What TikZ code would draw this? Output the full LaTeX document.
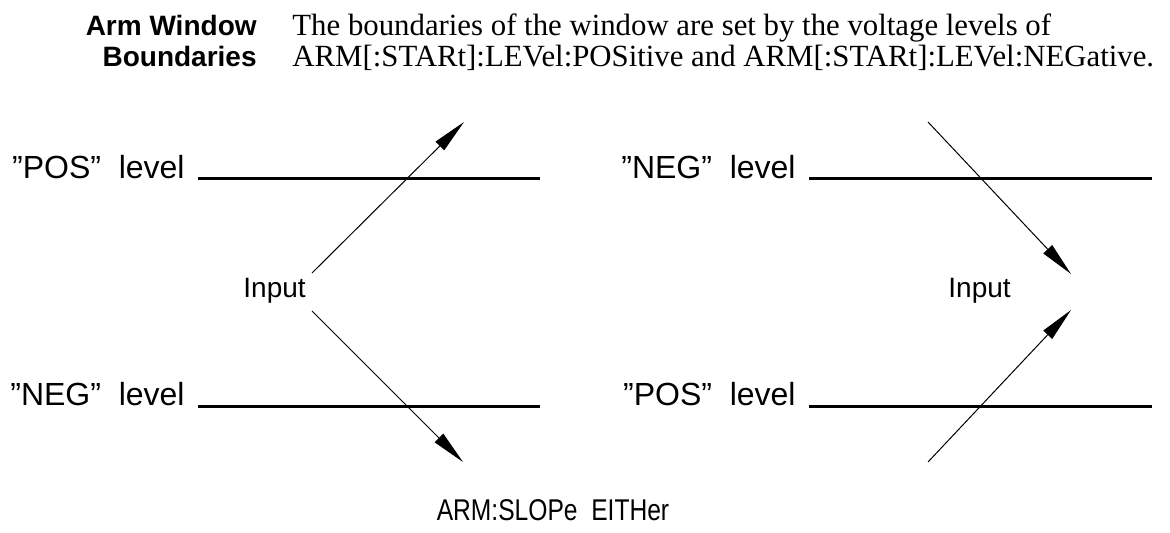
\documentclass[tikz,border=0pt]{standalone}
\usepackage{fontspec}
\setmainfont{Liberation Serif}
\newfontfamily\cadfont{Liberation Sans}
\newfontfamily\headfont{Liberation Sans}
\usetikzlibrary{arrows.meta}

\begin{document}
\begin{tikzpicture}[x=0.5pt,y=-0.5pt,
  lvltext/.style={font=\cadfont\fontsize{16}{19}\selectfont,inner sep=0pt,anchor=base east},
  intext/.style={font=\cadfont\fontsize{14}{17}\selectfont,inner sep=0pt,anchor=base west},
  headtext/.style={font=\headfont\bfseries\fontsize{14}{17}\selectfont,inner sep=0pt,anchor=base east},
  bodytext/.style={font=\fontsize{15.4}{18}\selectfont,inner sep=0pt,anchor=base west},
  lvlline/.style={line width=1.5pt},
  sig/.style={line width=0.5pt,-{Triangle[length=17pt,width=6pt]}}]
\useasboundingbox (0,0) rectangle (1170,533);
% heading
\node[headtext] (head) at (257,36) {Arm Window};
\node[headtext] (head2) at (257,67) {Boundaries};
\node[bodytext] (body) at (292,36) {The boundaries of the window are set by the voltage levels of};
\node[bodytext] (body2) at (292,67) {ARM[:STARt]:LEVel:POSitive and ARM[:STARt]:LEVel:NEGative.};
% left window
\coordinate (la1) at (198,179);
\coordinate (la2) at (540,179);
\coordinate (lb1) at (198,406);
\coordinate (lb2) at (540,406);
\node[lvltext] (lpos) at (185,179) {”POS”\ \ level};
\node[lvltext] (lneg) at (185,406) {”NEG”\ \ level};
\draw[lvlline] (la1) -- (la2);
\draw[lvlline] (lb1) -- (lb2);
\node[intext] (lin) at (243,298) {Input};
\coordinate (lu0) at (312,273);
\coordinate (lu1) at (464,122);
\coordinate (ld0) at (312,311);
\coordinate (ld1) at (463,462);
\draw[sig] (lu0) -- (lu1);
\draw[sig] (ld0) -- (ld1);
% right window
\coordinate (ra1) at (809,179);
\coordinate (ra2) at (1152,179);
\coordinate (rb1) at (809,406);
\coordinate (rb2) at (1152,406);
\node[lvltext] (rneg) at (796,179) {”NEG”\ \ level};
\node[lvltext] (rpos) at (796,406) {”POS”\ \ level};
\draw[lvlline] (ra1) -- (ra2);
\draw[lvlline] (rb1) -- (rb2);
\node[intext] (rin) at (948,298) {Input};
\coordinate (ru0) at (928,122);
\coordinate (ru1) at (1071,274);
\coordinate (rd0) at (928,462);
\coordinate (rd1) at (1071,310);
\draw[sig] (ru0) -- (ru1);
\draw[sig] (rd0) -- (rd1);
% slope caption
\node[font=\cadfont\fontsize{15}{18}\selectfont,inner sep=0pt,anchor=base] (slope) at (553,520) {\scalebox{0.82}[1]{ARM:SLOPe\ \ EITHer}};
\end{tikzpicture}
\end{document}
